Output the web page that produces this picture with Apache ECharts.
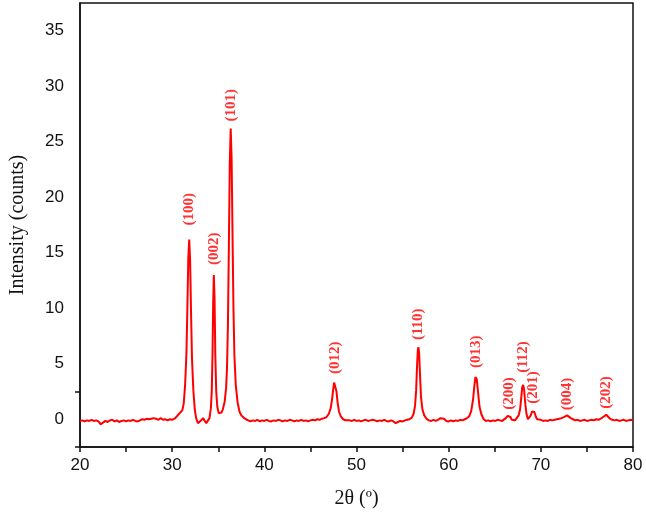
<!DOCTYPE html>
<html>
<head>
<meta charset="utf-8">
<script src="https://cdn.jsdelivr.net/npm/echarts@6/dist/echarts.min.js"></script>
<style>
html,body{margin:0;padding:0;background:#fff;}
#chart{width:646px;height:524px;}
</style>
</head>
<body>
<div id="chart"></div>
<script>
// ---- data ----
const twoTheta = [
20.0,20.25,20.5,20.75,21.0,21.25,21.5,21.75,22.0,22.25,22.5,22.75,23.0,23.25,23.5,23.75,24.0,24.25,24.5,24.75,
25.0,25.25,25.5,25.75,26.0,26.25,26.5,26.75,27.0,27.25,27.5,27.75,28.0,28.25,28.5,28.75,29.0,29.25,29.5,29.75,
30.0,30.25,30.5,30.7,30.9,31.1,31.25,31.4,31.55,31.65,31.75,31.85,31.95,32.05,32.15,32.3,32.45,32.6,32.8,33.0,
33.15,33.35,33.5,33.7,33.9,34.05,34.2,34.3,34.38,34.45,34.52,34.6,34.68,34.78,34.9,35.05,35.2,35.35,35.5,35.7,
35.85,35.95,36.05,36.15,36.25,36.35,36.45,36.55,36.65,36.75,36.9,37.1,37.3,37.5,37.75,38.0,38.25,38.5,38.75,39.0,
39.25,39.5,39.75,40.0,40.25,40.5,40.75,41.0,41.25,41.5,41.75,42.0,42.25,42.5,42.75,43.0,43.25,43.5,43.75,44.0,
44.25,44.5,44.75,45.0,45.25,45.5,45.75,46.0,46.25,46.5,46.75,47.0,47.2,47.35,47.47,47.57,47.65,47.73,47.83,47.95,
48.1,48.3,48.55,48.8,49.0,49.25,49.5,49.75,50.0,50.25,50.5,50.75,51.0,51.25,51.5,51.75,52.0,52.25,52.5,52.75,
53.0,53.25,53.5,53.75,54.0,54.25,54.5,54.75,55.0,55.25,55.5,55.75,56.0,56.2,56.35,56.47,56.57,56.65,56.72,56.8,
56.9,57.0,57.15,57.35,57.6,57.85,58.1,58.35,58.6,58.85,59.1,59.3,59.5,59.75,60.0,60.25,60.5,60.75,61.0,61.25,
61.5,61.75,62.0,62.25,62.45,62.65,62.8,62.9,62.97,63.05,63.18,63.35,63.55,63.8,64.05,64.3,64.55,64.8,65.05,65.3,
65.55,65.8,66.0,66.2,66.4,66.55,66.7,66.85,67.0,67.2,67.4,67.6,67.75,67.88,67.98,68.08,68.18,68.3,68.45,68.6,
68.75,68.9,69.05,69.18,69.3,69.45,69.6,69.8,70.0,70.25,70.5,70.75,71.0,71.25,71.5,71.75,72.0,72.25,72.5,72.7,
72.85,73.0,73.25,73.5,73.75,74.0,74.25,74.5,74.75,75.0,75.25,75.5,75.75,76.0,76.25,76.5,76.75,76.95,77.1,77.3,
77.5,77.75,78.0,78.25,78.5,78.75,79.0,79.25,79.5,79.75,80.0
];
const intensity = [
-0.15,-0.1,-0.2,-0.1,-0.15,-0.05,-0.15,-0.1,-0.2,-0.45,-0.3,-0.15,-0.25,-0.1,-0.05,-0.2,-0.1,-0.25,-0.15,-0.1,
-0.2,-0.1,-0.15,-0.05,-0.15,-0.2,-0.1,0.0,-0.05,0.05,0.0,0.05,0.1,0.05,-0.05,0.1,-0.05,0.0,-0.1,0.0,
-0.05,0.05,0.25,0.45,0.55,0.8,1.4,3.0,6.0,10.0,14.5,16.2,14.2,9.5,5.5,2.6,0.9,0.1,-0.35,-0.3,
-0.1,0.1,-0.1,-0.35,-0.2,0.1,1.0,2.6,6.0,10.5,13.0,10.8,5.8,2.5,1.1,0.55,0.4,0.6,0.9,1.6,
2.8,4.6,8.5,15.5,23.0,26.2,23.5,16.5,10.0,5.8,3.1,1.5,0.7,0.35,0.15,0.0,-0.1,-0.2,-0.1,-0.15,
-0.05,-0.2,-0.1,-0.15,-0.05,-0.15,-0.2,-0.1,-0.15,-0.05,-0.1,-0.2,-0.1,-0.15,-0.05,-0.1,-0.2,-0.1,-0.15,-0.05,
-0.15,-0.1,-0.2,-0.1,-0.05,-0.1,0.0,-0.05,0.05,0.1,0.2,0.5,1.0,1.8,2.7,3.3,3.45,3.2,2.5,1.5,
0.7,0.25,0.0,-0.1,-0.2,-0.1,-0.15,-0.05,-0.15,-0.1,-0.2,-0.1,-0.05,-0.15,-0.1,-0.05,-0.1,-0.2,-0.1,-0.15,
-0.05,-0.15,-0.2,-0.1,-0.2,-0.35,-0.25,-0.15,-0.2,-0.1,-0.05,0.0,0.15,0.5,1.2,2.6,4.8,6.2,6.5,5.9,
3.8,2.0,0.9,0.35,0.05,-0.1,-0.15,-0.05,-0.15,-0.05,0.1,0.25,0.05,-0.15,-0.2,-0.1,-0.2,-0.1,-0.15,-0.05,
-0.1,0.0,0.1,0.3,0.75,1.8,3.1,3.8,3.9,3.6,2.5,1.1,0.45,0.0,-0.15,-0.1,-0.2,-0.1,-0.15,-0.05,
-0.1,-0.15,-0.05,0.1,0.3,0.4,0.2,-0.05,-0.2,-0.1,0.0,0.35,0.9,2.0,2.9,3.1,2.7,1.5,0.45,0.0,
0.05,0.35,0.7,0.85,0.65,0.25,0.0,-0.1,-0.05,-0.15,-0.1,-0.15,-0.05,-0.1,-0.05,0.0,0.05,0.1,0.2,0.3,
0.35,0.25,0.1,0.0,-0.1,-0.05,-0.15,-0.1,-0.05,-0.15,-0.1,-0.05,-0.1,0.0,-0.05,0.05,0.2,0.35,0.4,0.25,
0.05,-0.05,-0.1,-0.05,-0.15,-0.1,-0.05,-0.15,-0.1,-0.05,-0.1
];
const peakLabels = ['(100)','(002)','(101)','(012)','(110)','(013)','(200)','(112)','(201)','(004)','(202)'];
const peakPos    = [31.85, 34.52, 36.35, 47.65, 56.72, 62.97, 66.55, 68.08, 69.18, 72.85, 77.1];
const peakHeight = [16.2, 13.0, 26.2, 3.45, 6.5, 3.9, 0.4, 3.1, 0.85, 0.35, 0.4];
const yLabelValues = [0, 5, 10, 15, 20, 25, 30, 35];
const xTitle = '2θ (º)';
const yTitle = 'Intensity (counts)';

// ---- chart ----
const labelGap = [14, 10, 7, 7, 7, 8, 5, 12, 6, 5, 6];
const lineData = twoTheta.map((x, i) => [x, intensity[i]]);
const labelData = peakPos.map((x, i) => ({
  value: [x, peakHeight[i]],
  name: peakLabels[i],
  label: { distance: labelGap[i] }
}));

const chart = echarts.init(document.getElementById('chart'), null, { renderer: 'canvas' });
chart.setOption({
  backgroundColor: '#fff',
  animation: false,
  grid: { left: 80, right: 13, top: 3, bottom: 77, show: true, borderColor: '#111', borderWidth: 1.5, backgroundColor: 'transparent' },
  xAxis: {
    type: 'value', min: 20, max: 80, interval: 5,
    name: xTitle, nameLocation: 'middle', nameGap: 42,
    nameTextStyle: { fontFamily: 'Liberation Serif', fontSize: 20, color: '#111' },
    axisLine: { show: true, onZero: false, lineStyle: { color: '#111', width: 1.5 } },
    axisTick: { show: true, inside: false, length: 5, lineStyle: { color: '#111', width: 1.5 } },
    axisLabel: {
      margin: 10, fontFamily: 'Liberation Sans', fontSize: 17, color: '#111',
      formatter: v => (v % 10 === 0 ? String(v) : '')
    },
    splitLine: { show: false }
  },
  yAxis: {
    type: 'value', min: -2.5, max: 37.5, interval: 2.5,
    name: yTitle, nameLocation: 'middle', nameGap: 52,
    nameTextStyle: { fontFamily: 'Liberation Serif', fontSize: 20, color: '#111' },
    axisLine: { show: true, onZero: false, lineStyle: { color: '#111', width: 1.5 } },
    axisTick: { show: true, inside: false, length: 5, customValues: [-2.5, 2.5], lineStyle: { color: '#111', width: 1.5 } },
    axisLabel: { margin: 16, fontFamily: 'Liberation Sans', fontSize: 17, color: '#111', customValues: yLabelValues },
    splitLine: { show: false }
  },
  series: [
    {
      type: 'line', data: lineData, showSymbol: false, smooth: false,
      lineStyle: { color: '#ff0000', width: 2 }, z: 3
    },
    {
      type: 'scatter', data: labelData, symbolSize: 0, z: 4,
      label: {
        show: true, position: 'top', rotate: 90, align: 'left', verticalAlign: 'middle',
        formatter: p => p.name,
        fontFamily: 'Liberation Serif', fontWeight: 'bold', fontSize: 15, color: '#ff0000'
      }
    }
  ]
});
</script>
</body>
</html>
